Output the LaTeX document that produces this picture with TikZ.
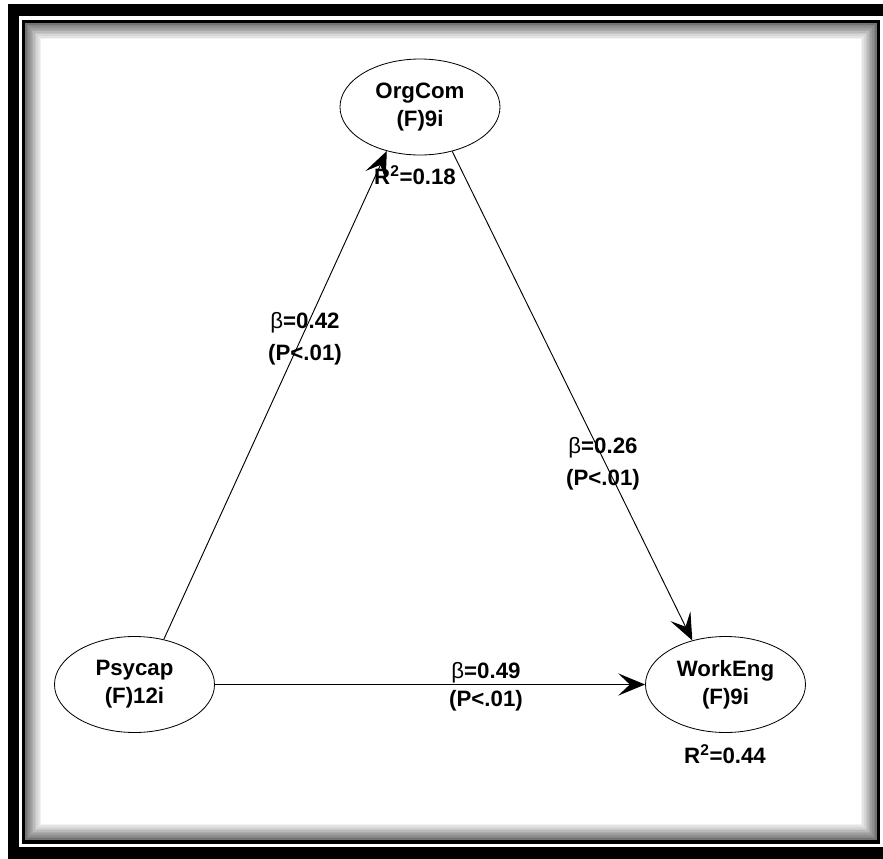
\documentclass[tikz,border=0pt]{standalone}
\usepackage{fontspec}
\setmainfont{Liberation Sans}
\usetikzlibrary{arrows.meta,shapes.geometric}
\begin{document}
\begin{tikzpicture}[x=0.03cm,y=-0.03cm]
		\tikzstyle{construit}=[ellipse, draw, line width=0.7pt, minimum width=4.8cm, minimum height=2.88cm, inner sep=0pt, align=center, font=\bfseries\fontsize{19}{24}\selectfont]
		\tikzstyle{etiquette}=[align=center, inner sep=0pt, font=\bfseries\fontsize{19}{27}\selectfont]
		\tikzstyle{chemin}=[-{Stealth[length=23pt,width=19pt,inset=10pt]}, line width=0.8pt]
		\useasboundingbox (0,0) rectangle (883,859);
		% cadre
		\fill[black] (8,4) rectangle (883,859);
		\fill[white] (19,16) rectangle (883,847);
		\draw[line width=2.6pt] (23.5,21.5) rectangle (878.5,842);
		\foreach \i in {0,...,9} {
			\pgfmathtruncatemacro\teinte{55-5.5*\i}
			\draw[line width=1.4pt, black!\teinte] ({26+1.6*\i},{24+1.6*\i}) rectangle ({876-1.6*\i},{839-1.6*\i});
		}
		% variables latentes
		\node[construit] (orgcom) at (420,107) {OrgCom\\(F)9i};
		\node[construit] (psycap) at (134.5,684.5) {Psycap\\(F)12i};
		\node[construit] (workeng) at (725.5,684.5) {WorkEng\\(F)9i};
		\node[etiquette] (r_orgcom) at (415,175) {R\textsuperscript{2}=0.18};
		\node[etiquette] (r_workeng) at (725,754) {R\textsuperscript{2}=0.44};
		% coefficients
		\node[etiquette] (b_psy_org) at (305,339) {{\mdseries β}=0.42\\(P<.01)};
		\node[etiquette] (b_org_work) at (603,464) {{\mdseries β}=0.26\\(P<.01)};
		\node[etiquette, font=\bfseries\fontsize{19}{24}\selectfont] (b_psy_work) at (486,687) {{\mdseries β}=0.49\\(P<.01)};
		% chemins
		\draw[chemin] (psycap.57) -- (orgcom.233);
		\draw[chemin] (orgcom.306) -- (workeng.127);
		\draw[chemin, line width=1.3pt] (psycap.east) -- (workeng.west);
	\end{tikzpicture}
\end{document}
